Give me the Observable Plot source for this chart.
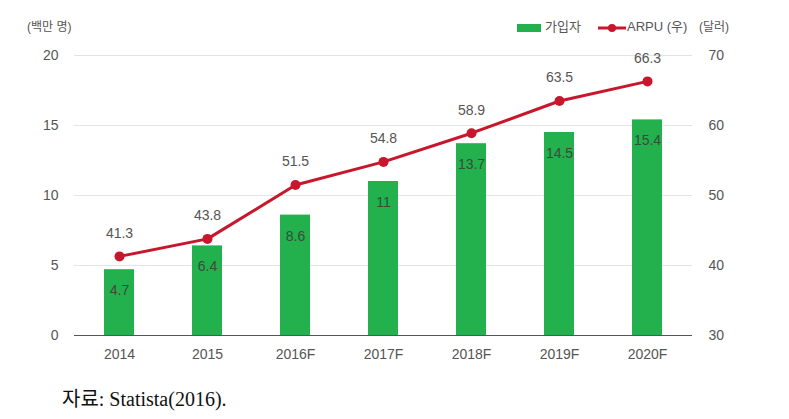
<!DOCTYPE html>
<html><head><meta charset="utf-8">
<script src="https://cdn.jsdelivr.net/npm/d3@7"></script>
<script src="https://cdn.jsdelivr.net/npm/@observablehq/plot@0.6"></script>
<style>
body{margin:0;background:#fff;font-family:Arial,"Liberation Sans","Noto Sans CJK KR",sans-serif;}
#wrap{position:relative;width:789px;height:419px;}
.lbl{position:absolute;font-size:13px;color:#555;white-space:nowrap;}
#caption{position:absolute;left:62px;top:383px;font-family:"Liberation Serif","Noto Sans CJK KR",serif;font-size:20px;color:#111;}
</style></head>
<body><div id="wrap"></div>
<script>
const years = ["2014","2015","2016F","2017F","2018F","2019F","2020F"];
const subscribers = [4.7, 6.4, 8.6, 11, 13.7, 14.5, 15.4];
const arpu = [41.3, 43.8, 51.5, 54.8, 58.9, 63.5, 66.3];
const leftTicks = [0, 5, 10, 15, 20];
const rightTicks = [30, 40, 50, 60, 70];

const green = "#22b14c", red = "#c8162c";
const toLeft = v => (v - 30) / 2;
const data = years.map((y, i) => ({year: y, sub: subscribers[i], arpu: arpu[i], arpuY: toLeft(arpu[i])}));

const plot = Plot.plot({
  width: 789, height: 375,
  marginLeft: 74, marginRight: 97, marginTop: 55, marginBottom: 40,
  style: {fontFamily: "Arial, 'Liberation Sans', sans-serif", fontSize: "14px", color: "#555"},
  x: {domain: years, paddingInner: 0.66, paddingOuter: 0.33, label: null},
  y: {domain: [0, 20], label: null},
  marks: [
    Plot.gridY(leftTicks, {stroke: "#e3e3e3", strokeOpacity: 1, strokeWidth: 1.2}),
    Plot.axisY(leftTicks, {anchor: "left", tickSize: 0, tickPadding: 16, label: null, fill: "#555"}),
    Plot.axisY(rightTicks.map(toLeft), {anchor: "right", tickSize: 0, tickPadding: 16, label: null, tickFormat: d => d * 2 + 30, fill: "#555", textAnchor: "start"}),
    Plot.axisX({tickSize: 0, tickPadding: 14, label: null, fill: "#555"}),
    Plot.barY(data, {x: "year", y: "sub", fill: green}),
    Plot.ruleY([0], {stroke: "#555", strokeWidth: 1.2}),
    Plot.text(data, {x: "year", y: "sub", text: d => String(d.sub), dy: 21, fill: "#3a4a3e", fontSize: 14}),
    Plot.line(data, {x: "year", y: "arpuY", stroke: red, strokeWidth: 3}),
    Plot.dot(data, {x: "year", y: "arpuY", r: 5, fill: red}),
    Plot.text(data, {x: "year", y: "arpuY", text: d => d.arpu.toFixed(1), dy: -23, fill: "#555", fontSize: 14})
  ]
});
const wrap = document.getElementById("wrap");
wrap.appendChild(plot);
plot.style.position = "absolute"; plot.style.left = "0"; plot.style.top = "0";

const add = (html, css) => { const d = document.createElement("div"); d.className = "lbl"; d.innerHTML = html; Object.assign(d.style, css); wrap.appendChild(d); };
add("(백만 명)", {left: "27px", top: "17px", fontSize: "12px"});
add('<span style="display:inline-block;width:24px;height:8px;background:' + green + ';vertical-align:middle;margin-right:4px"></span>가입자', {left: "517px", top: "16px"});
add('<svg width="28" height="12" style="vertical-align:middle;margin-right:1px"><line x1="0" y1="6" x2="28" y2="6" stroke="' + red + '" stroke-width="3"/><circle cx="14" cy="6" r="4" fill="' + red + '"/></svg>ARPU (우)', {left: "598px", top: "16px"});
add("(달러)", {left: "699px", top: "17px", fontSize: "12px"});
const cap = document.createElement("div"); cap.id = "caption"; cap.textContent = "자료: Statista(2016)."; wrap.appendChild(cap);
</script></body></html>
